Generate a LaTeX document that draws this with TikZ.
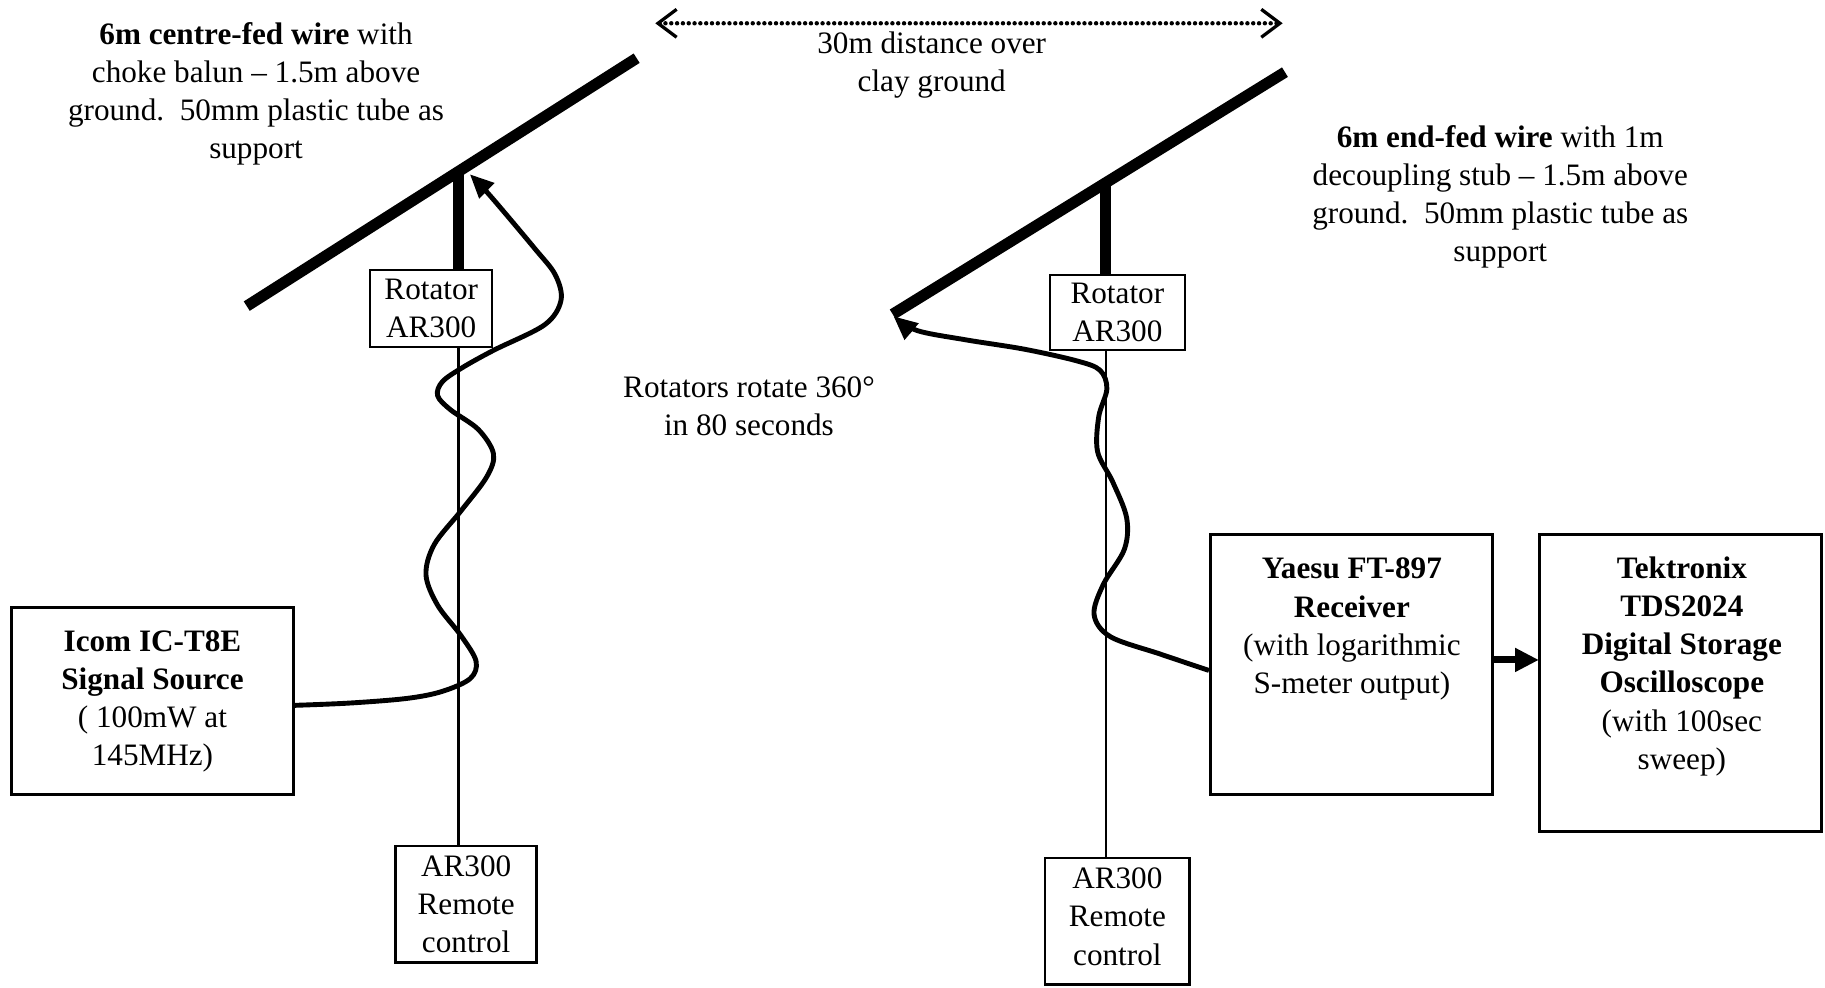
\documentclass[tikz,border=0pt]{standalone}
\usepackage{fontspec}
\setmainfont{Liberation Serif}
\usetikzlibrary{arrows.meta}
\begin{document}
\begin{tikzpicture}[x=0.5pt,y=-0.5pt,
  every node/.style={font=\fontsize{13.4}{16.4}\selectfont, align=center, inner sep=0pt},
  bigbox/.style={draw, line width=1.3pt},
  rembox/.style={draw, line width=1.1pt},
  rotbox/.style={draw, line width=0.9pt},
  antenna/.style={line width=4.8pt},
  mastline/.style={line width=4.8pt},
  pole/.style={line width=1pt},
  cable/.style={line width=2.1pt, line join=round, arrows={-Triangle[length=10pt,width=9.5pt,line width=0pt]}},
  flow/.style={line width=3pt, arrows={-Triangle[length=10pt,width=10.5pt,line width=0pt]}},
  dist/.style={line width=1.9pt, line cap=round, dash pattern=on 0pt off 2.5pt,
    arrows={Straight Barb[length=8pt,width=12pt,line width=1.4pt]-Straight Barb[length=8pt,width=12pt,line width=1.4pt]}}
]
\useasboundingbox (0,0) rectangle (1568,848);

% labels
\node (lblL) at (220,80.5) {\textbf{6m centre-fed wire} with\\choke balun – 1.5m above\\ground.\ \ 50mm plastic tube as\\support};
\node (lblR) at (1289,169) {\textbf{6m end-fed wire} with 1m\\decoupling stub – 1.5m above\\ground.\ \ 50mm plastic tube as\\support};
\node (distlbl) at (800.5,56) {30m distance over\\clay ground};
\node (rotnote) at (643.5,349) {Rotators rotate 360°\\in 80 seconds};

% distance arrow
\coordinate (d1) at (563,20);
\coordinate (d2) at (1102,20);
\draw[dist] (d1) -- (d2);

% left antenna
\coordinate (aL1) at (212,263);
\coordinate (aL2) at (547,50);
\draw[antenna] (aL1) -- (aL2);
\coordinate (mastL) at (394,147);
\node[rotbox, minimum width=52.5pt, minimum height=33pt] (rotL) at (370.5,265) {Rotator\\AR300};
\draw[mastline] (rotL.north -| mastL) -- (mastL);
\node[rembox, minimum width=60.5pt, minimum height=50pt] (remL) at (400.5,777) {AR300\\Remote\\control};
\draw[pole] (rotL.south -| mastL) -- (remL.north -| mastL);

% right antenna
\coordinate (aR1) at (767,270);
\coordinate (aR2) at (1104,62);
\draw[antenna] (aR1) -- (aR2);
\coordinate (mastR) at (950,157);
\node[rotbox, minimum width=58pt, minimum height=32.5pt] (rotR) at (960,268.5) {Rotator\\AR300};
\draw[mastline] (rotR.north -| mastR) -- (mastR);
\node[rembox, minimum width=62pt, minimum height=54.5pt] (remR) at (960,791.5) {AR300\\Remote\\control\rule[-4pt]{0pt}{0pt}};
\draw[pole] (rotR.south -| mastR) -- (remR.north -| mastR);

% signal source
\node[bigbox, minimum width=121pt, minimum height=80.5pt] (src) at (131,602.5) {\textbf{Icom IC-T8E}\\\textbf{Signal Source}\\( 100mW at\\145MHz)};

% receiver and scope
\node[bigbox, minimum width=121pt, minimum height=112pt] (ybox) at (1161,571) {};
\node (ytext) at (1161.5,540.5) {\textbf{Yaesu FT-897}\\\textbf{Receiver}\\(with logarithmic\\S-meter output)};
\node[bigbox, minimum width=121pt, minimum height=127.5pt] (tbox) at (1444,586.5) {};
\node (ttext) at (1445,572.5) {\textbf{Tektronix}\\\textbf{TDS2024}\\\textbf{Digital Storage}\\\textbf{Oscilloscope}\\(with 100sec\\sweep)};
\draw[flow] ([yshift=2pt]ybox.east) -- ([yshift=2pt]ybox.east -| tbox.west);

% cables
\coordinate (ltip) at (404,150);
\draw[cable] plot[smooth, tension=0.55] coordinates {([yshift=-1.75pt]src.east) (301,604) (350,600) (380,594) (404,583) (409,568) (396,546) (376,520) (366,494) (373,468) (396,439) (418,410) (424,390) (411,369) (387,352) (376,340) (380,328) (397,316) (424,301) (468,279) (482,258) (477,236) (459,213) (421,168) (ltip)};

\coordinate (rtip) at (768,272);
\draw[cable] plot[smooth, tension=0.55] coordinates {([yshift=-2.5pt]ybox.west) (997,562) (954,547) (940,528) (948,502) (966,472) (968,445) (956,414) (943,388) (944,358) (951,334) (945,318) (925,310) (880,300) (830,292) (788,284) (rtip)};
\end{tikzpicture}
\end{document}
